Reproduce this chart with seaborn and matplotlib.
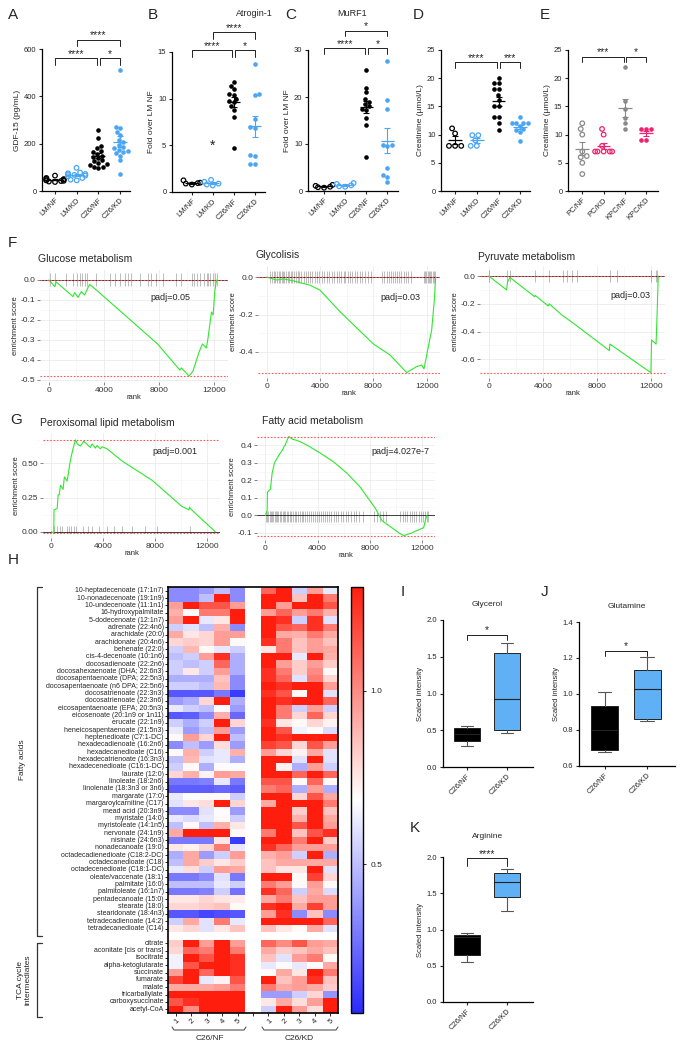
import numpy as np
import pandas as pd
import seaborn as sns
import matplotlib.pyplot as plt
from matplotlib.lines import Line2D
from matplotlib.colors import LinearSegmentedColormap

sns.set_style("white")
plt.rcParams['font.family'] = ['Liberation Sans', 'DejaVu Sans']
plt.rcParams['axes.unicode_minus'] = False

# ---------------- data: dot plots A-E ----------------
lm_groups = ["LM/NF", "LM/KD", "C26/NF", "C26/KD"]
pc_groups = ["PC/NF", "PC/KD", "KPC/NF", "KPC/KD"]

gdf15 = {
    "LM/NF": [65, 55, 52, 50, 48, 46, 45, 43, 42, 40, 38],
    "LM/KD": [98, 78, 75, 72, 70, 68, 65, 62, 55, 48, 45],
    "C26/NF": [258, 226, 192, 180, 170, 165, 158, 150, 145, 138, 130, 125, 118, 112, 108, 103, 100, 98],
    "C26/KD": [510, 272, 265, 250, 235, 215, 205, 195, 185, 180, 175, 170, 165, 160, 150, 130, 72],
}
atrogin = {
    "LM/NF": [1.25, 1.0, 0.95, 0.9, 0.8],
    "LM/KD": [1.3, 1.1, 0.9, 0.8, 0.7],
    "C26/NF": [11.8, 11.4, 11.0, 10.5, 10.4, 10.0, 9.8, 9.6, 9.2, 8.8, 8.0, 4.7],
    "C26/KD": [13.7, 10.5, 10.4, 7.8, 7.0, 6.9, 4.0, 3.9, 3.0, 3.0],
}
murf1 = {
    "LM/NF": [1.3, 1.1, 0.9, 0.8, 0.7],
    "LM/KD": [1.7, 1.5, 1.2, 1.0, 0.9],
    "C26/NF": [25.7, 22.0, 21.0, 19.5, 19.0, 18.5, 18.0, 17.5, 17.2, 15.5, 14.0, 7.3],
    "C26/KD": [27.7, 19.4, 17.4, 9.8, 9.7, 9.6, 4.8, 3.3, 3.0, 2.0],
}
creat_lm = {
    "LM/NF": [11.1, 10.2, 8.0, 8.0, 8.0],
    "LM/KD": [9.9, 9.9, 9.0, 8.0, 8.0],
    "C26/NF": [20.1, 19.1, 19.1, 18.0, 18.0, 17.0, 16.2, 15.0, 15.0, 13.1, 13.1, 12.0, 10.9],
    "C26/KD": [13.1, 12.0, 12.0, 12.0, 12.0, 11.5, 11.0, 10.8, 10.4, 8.9],
}
creat_pc = {
    "PC/NF": [12, 11, 10, 7, 6.2, 6, 5, 3],
    "PC/KD": [11, 10, 8, 7, 7, 7, 7, 7],
    "KPC/NF": [22, 16, 14.5, 13, 12, 11],
    "KPC/KD": [11, 11, 11, 9, 9],
}

# ---------------- data: GSEA curves F-G ----------------
gluc_rank = [0, 415, 527, 1745, 1866, 2108, 2350, 2593, 2836, 2957, 3442, 7888, 9500, 9620, 10170,
             10460, 10900, 11140, 11430, 11550, 11800, 11920, 12040, 12170]
gluc_es = [0.0, -0.033, -0.01, -0.083, -0.063, -0.087, -0.058, -0.075, -0.037, -0.022, -0.05, -0.32, -0.45,
           -0.44, -0.48, -0.455, -0.36, -0.32, -0.34, -0.29, -0.16, -0.175, -0.055, 0.0]
gluc_hits = [50, 414, 1265, 1745, 2036, 2232, 2428, 2595, 2764, 3446, 4413, 4776, 5140, 5504, 5745, 5987,
             6594, 7200, 7442, 7806, 8290, 9260, 9622, 10350, 10540, 10714, 10956, 11247, 11440, 11560,
             11683, 11877, 12045, 12169]

glyc_rank = [0, 750, 1250, 2000, 2500, 3250, 4000, 5500, 8000, 9250, 10500, 11250, 11625, 11800,
             12125, 12375, 12575, 12675]
glyc_es = [0.0, -0.016, -0.01, -0.02, -0.03, -0.043, -0.07, -0.185, -0.357, -0.416, -0.51, -0.478,
           -0.47, -0.49, -0.372, -0.283, -0.123, 0.0]
glyc_hits = [250, 420, 560, 640, 780, 900, 1010, 1120, 1260, 1330, 1480, 1600, 1710, 1850, 1930, 2080,
             2200, 2350, 2460, 2600, 2780, 2950, 3100, 3240, 3420, 3600, 3790, 3950, 4150, 4320, 4500,
             4700, 4880, 5050, 5260, 5420, 5600, 5780, 5900, 6080, 6250, 6420, 6610, 6800, 7000, 7180,
             7400, 7620, 7850, 8680, 8820, 9000, 9150, 9330, 9480, 9650, 9800, 9950, 10100, 10280,
             10450, 10620, 10800, 11780, 11880, 11980, 12070, 12160, 12260, 12350, 12440, 12530, 12620]

pyr_rank = [0, 1310, 1380, 1554, 3380, 3420, 4390, 4460, 5380, 6240, 8900, 8930, 9160, 11960, 12010,
            12340, 12420, 12500]
pyr_es = [0.0, -0.1, -0.045, -0.01, -0.149, -0.14, -0.216, -0.2, -0.28, -0.34, -0.537, -0.49, -0.505,
          -0.696, -0.46, -0.49, -0.27, 0.0]
pyr_hits = [0, 1310, 1554, 3400, 4460, 5450, 5740, 6160, 6480, 8930, 9430, 11950, 12340, 12440]

perox_rank = [0, 180, 200, 440, 520, 600, 700, 900, 1000, 1210, 1300, 1460, 1650, 1850, 2000, 2230,
              2490, 3000, 3140, 3390, 3520, 3770, 3900, 4290, 5460, 7770, 10060, 10600, 10650, 10700, 12640]
perox_es = [0.0, -0.01, 0.16, 0.17, 0.27, 0.27, 0.34, 0.31, 0.40, 0.37, 0.42, 0.52, 0.60, 0.67, 0.64,
            0.625, 0.66, 0.615, 0.64, 0.61, 0.63, 0.605, 0.62, 0.605, 0.515, 0.375, 0.185, 0.16, 0.18,
            0.17, 0.0]
perox_hits = [180, 440, 640, 830, 1210, 1390, 1520, 1720, 1930, 2440, 2800, 3130, 3640, 4290, 4800, 5440,
              6210, 7240, 8140, 10650]

fatty_rank = [0, 130, 150, 380, 510, 690, 1020, 1280, 1400, 1500, 1660, 1790, 2050, 2300, 2680, 3320,
              4210, 5230, 6260, 7280, 8430, 8940, 10340, 10600, 11230, 11490, 12130, 12260, 12380]
fatty_es = [0.0, 0.03, 0.133, 0.15, 0.24, 0.30, 0.343, 0.37, 0.39, 0.40, 0.43, 0.45, 0.435, 0.43, 0.42,
            0.395, 0.355, 0.305, 0.24, 0.16, 0.04, -0.03, -0.105, -0.115, -0.10, -0.09, -0.07, -0.03, 0.0]
fatty_hits = [60, 150, 230, 330, 420, 500, 610, 700, 800, 880, 990, 1100, 1200, 1320, 1410, 1530, 1640,
              1760, 1850, 1980, 2100, 2230, 2350, 2500, 2640, 2780, 2900, 3050, 3200, 3330, 3480, 3620,
              3780, 3920, 4080, 4250, 4400, 4560, 4720, 4900, 5050, 5230, 5400, 5580, 5760, 5950, 6150,
              6340, 6550, 6760, 6980, 7200, 7450, 8350, 8550, 8780, 9000, 9250, 10350, 10520, 10700,
              10880, 11050, 11230, 11400, 11580, 11750, 11900, 12050, 12200, 12350, 12500]

# ---------------- data: heatmap H ----------------
fatty_acids = [
    "10-heptadecenoate (17:1n7)", "10-nonadecenoate (19:1n9)", "10-undecenoate (11:1n1)",
    "16-hydroxypalmitate", "5-dodecenoate (12:1n7)", "adrenate (22:4n6)", "arachidate (20:0)",
    "arachidonate (20:4n6)", "behenate (22:0)", "cis-4-decenoate (10:1n6)", "docosadienoate (22:2n6)",
    "docosahexaenoate (DHA; 22:6n3)", "docosapentaenoate (DPA; 22:5n3)",
    "docosapentaenoate (n6 DPA; 22:5n6)", "docosatrienoate (22:3n3)", "docosatrienoate (22:3n6)",
    "eicosapentaenoate (EPA; 20:5n3)", "eicosenoate (20:1n9 or 1n11)", "erucate (22:1n9)",
    "heneicosapentaenoate (21:5n3)", "heptenedioate (C7:1-DC)", "hexadecadienoate (16:2n6)",
    "hexadecanedioate (C16)", "hexadecatrienoate (16:3n3)", "hexadecenedioate (C16:1-DC)",
    "laurate (12:0)", "linoleate (18:2n6)", "linolenate (18:3n3 or 3n6)", "margarate (17:0)",
    "margaroylcarnitine (C17)", "mead acid (20:3n9)", "myristate (14:0)", "myristoleate (14:1n5)",
    "nervonate (24:1n9)", "nisinate (24:6n3)", "nonadecanoate (19:0)", "octadecadienedioate (C18:2-DC)",
    "octadecanedioate (C18)", "octadecenedioate (C18:1-DC)", "oleate/vaccenate (18:1)", "palmitate (16:0)",
    "palmitoleate (16:1n7)", "pentadecanoate (15:0)", "stearate (18:0)", "stearidonate (18:4n3)",
    "tetradecadienoate (14:2)", "tetradecanedioate (C14)",
]
tca = ["citrate", "aconitate [cis or trans]", "isocitrate", "alpha-ketoglutarate", "succinate",
       "fumarate", "malate", "tricarballylate", "carboxysuccinate", "acetyl-CoA"]

nf_fa = [
    [0.35, 0.35, 0.40, 0.50, 0.35], [0.35, 0.35, 0.50, 1.30, 0.35], [0.95, 1.30, 1.15, 1.15, 0.95],
    [0.90, 0.70, 1.05, 1.05, 1.30], [0.95, 1.30, 0.62, 0.75, 1.30], [0.55, 0.60, 0.50, 0.90, 0.35],
    [0.92, 0.75, 0.80, 0.95, 0.95], [0.80, 0.82, 0.80, 0.95, 0.70], [0.55, 0.88, 0.70, 0.62, 0.55],
    [0.50, 0.55, 0.95, 1.25, 0.45], [0.55, 0.50, 0.55, 1.10, 0.45], [0.55, 0.75, 0.55, 0.95, 0.45],
    [0.45, 0.45, 0.45, 0.85, 0.35], [0.55, 0.55, 0.50, 0.88, 0.35], [0.20, 0.20, 0.20, 0.30, 0.12],
    [0.40, 0.45, 0.80, 1.30, 0.45], [0.62, 0.55, 0.50, 0.68, 0.40], [0.20, 0.22, 0.35, 0.90, 0.25],
    [0.55, 0.45, 0.55, 1.30, 0.80], [0.62, 0.40, 0.50, 0.95, 0.40], [0.70, 0.95, 0.80, 1.30, 0.50],
    [0.35, 0.50, 0.40, 0.78, 0.40], [0.70, 0.90, 0.55, 0.62, 0.90], [0.50, 0.88, 0.60, 0.62, 0.45],
    [0.55, 0.70, 0.45, 0.68, 0.68], [0.80, 0.90, 0.72, 0.95, 0.92], [0.30, 0.30, 0.32, 0.62, 0.30],
    [0.22, 0.22, 0.22, 0.25, 0.22], [0.62, 0.68, 0.70, 0.70, 0.55], [0.60, 0.75, 0.78, 1.30, 0.80],
    [0.35, 0.35, 0.60, 0.68, 0.40], [0.62, 0.58, 0.62, 0.70, 0.55], [0.50, 0.70, 0.50, 0.90, 0.75],
    [0.92, 1.30, 1.30, 1.30, 0.70], [0.30, 0.30, 0.30, 0.75, 0.12], [0.75, 0.72, 0.80, 1.05, 0.62],
    [0.45, 0.92, 0.40, 0.55, 0.95], [0.50, 0.92, 0.82, 0.75, 0.82], [0.62, 0.78, 0.55, 0.95, 0.92],
    [0.30, 0.30, 0.35, 0.60, 0.30], [0.50, 0.50, 0.50, 0.62, 0.55], [0.30, 0.30, 0.32, 0.55, 0.28],
    [0.75, 0.75, 0.80, 0.76, 0.74], [0.80, 0.80, 0.82, 0.85, 0.70], [0.20, 0.20, 0.15, 0.18, 0.20],
    [0.55, 0.92, 0.60, 1.05, 0.62], [0.75, 0.80, 0.60, 0.75, 0.85],
]
nf_tca = [
    [0.82, 1.30, 0.95, 1.30, 0.95], [0.80, 1.10, 1.05, 1.30, 1.05], [0.65, 1.30, 1.15, 1.30, 1.25],
    [0.65, 1.15, 1.30, 1.30, 1.25], [0.95, 1.30, 1.10, 1.30, 1.25], [1.20, 1.30, 0.62, 0.72, 1.15],
    [0.92, 0.92, 0.92, 0.95, 1.05], [1.30, 1.30, 1.30, 1.30, 1.30], [1.15, 1.25, 1.30, 1.30, 1.30],
    [1.30, 1.00, 1.30, 1.30, 1.30],
]
kd_fa = [
    [1.10, 1.30, 0.55, 0.95, 0.62], [1.30, 1.30, 0.85, 1.30, 1.05], [1.30, 0.95, 1.30, 1.30, 1.15],
    [0.95, 1.10, 0.95, 1.05, 0.90], [1.30, 1.25, 0.55, 1.25, 0.60], [1.30, 1.15, 1.10, 1.25, 1.05],
    [1.30, 0.92, 0.90, 1.05, 0.92], [1.25, 1.05, 0.85, 0.95, 0.85], [0.75, 1.05, 0.85, 0.95, 0.92],
    [1.30, 1.30, 0.62, 1.30, 0.90], [1.30, 0.95, 0.82, 0.95, 0.82], [1.25, 1.05, 0.82, 1.00, 0.70],
    [1.25, 1.10, 0.60, 1.05, 0.80], [1.30, 1.25, 1.30, 1.30, 0.95], [1.25, 1.15, 0.70, 1.30, 0.60],
    [1.30, 1.25, 1.30, 1.30, 1.10], [1.30, 1.05, 0.55, 0.95, 0.55], [1.30, 1.05, 0.80, 1.10, 0.80],
    [1.25, 0.75, 0.70, 0.80, 0.72], [1.30, 1.15, 0.65, 0.70, 0.58], [1.30, 1.25, 1.30, 1.30, 1.30],
    [1.20, 1.15, 0.80, 1.15, 0.95], [0.95, 0.80, 0.72, 0.92, 0.60], [1.30, 1.30, 0.60, 1.30, 0.60],
    [1.30, 0.72, 0.45, 0.95, 0.55], [1.30, 1.30, 1.10, 1.30, 1.10], [1.15, 1.15, 0.70, 1.10, 0.70],
    [1.05, 1.10, 0.45, 0.95, 0.45], [1.30, 1.30, 0.80, 1.15, 0.92], [0.92, 1.30, 1.30, 1.30, 1.05],
    [1.30, 1.30, 0.82, 1.30, 0.85], [1.30, 1.30, 0.90, 1.30, 0.92], [1.30, 1.30, 1.15, 1.30, 0.95],
    [1.05, 1.30, 0.85, 1.15, 1.25], [1.30, 1.30, 1.05, 1.30, 0.82], [1.25, 1.10, 0.95, 0.95, 0.95],
    [0.90, 0.95, 0.55, 1.30, 0.45], [0.85, 0.92, 0.92, 0.92, 0.92], [0.85, 0.75, 0.75, 1.30, 0.60],
    [1.30, 1.30, 0.70, 1.20, 0.80], [1.05, 0.95, 0.70, 0.95, 0.70], [1.25, 1.10, 0.55, 0.92, 0.58],
    [0.92, 1.05, 0.85, 0.95, 0.95], [1.25, 1.30, 0.92, 1.20, 0.95], [0.95, 1.25, 0.35, 0.85, 0.35],
    [1.30, 1.30, 1.30, 1.30, 1.10], [0.85, 0.75, 0.70, 0.92, 0.60],
]
kd_tca = [
    [1.10, 1.00, 1.15, 0.95, 0.92], [0.92, 0.82, 0.85, 0.92, 0.85], [0.85, 0.60, 0.95, 1.05, 0.70],
    [0.62, 0.68, 0.62, 0.68, 0.92], [0.70, 0.92, 0.75, 1.30, 1.05], [1.30, 0.85, 0.95, 1.25, 0.85],
    [1.05, 0.92, 0.95, 0.92, 0.82], [0.40, 0.40, 0.55, 0.80, 0.38], [0.75, 0.92, 0.78, 0.95, 1.30],
    [0.55, 1.30, 0.95, 0.78, 1.30],
]
sample_ids = ["1", "2", "3", "4", "5"]

# ---------------- data: box plots I-K (whislo, q1, median, q3, whishi) ----------------
box_groups = ["C26/NF", "C26/KD"]
glycerol = [[0.28, 0.35, 0.45, 0.53, 0.555], [0.46, 0.51, 0.93, 1.55, 1.69]]
glutamine = [[0.68, 0.69, 0.80, 0.935, 1.01], [0.85, 0.86, 1.03, 1.135, 1.205]]
arginine = [[0.55, 0.65, 0.90, 0.93, 0.95], [1.25, 1.45, 1.65, 1.78, 1.83]]

# ---------------- helpers ----------------
W, H = 684, 1050
fig = plt.figure(figsize=(W / 100, H / 100), dpi=100)


def px_axes(x0, y0, x1, y1):
    return fig.add_axes([x0 / W, 1 - y1 / H, (x1 - x0) / W, (y1 - y0) / H])


def ftext(x, y, s, **kw):
    fig.text(x / W, 1 - y / H, s, **kw)


def fline(xs, ys, **kw):
    fig.add_artist(Line2D([x / W for x in xs], [1 - y / H for y in ys], **kw))


def letter(x, y, s):
    ftext(x, y, s, fontsize=11, ha="left", va="center")


def bracket(ax, x1, x2, y, h, label):
    ax.plot([x1, x1, x2, x2], [y - h, y, y, y - h], color="#222222", lw=0.7, clip_on=False)
    ax.text((x1 + x2) / 2, y - h * 0.1, label, ha="center", va="bottom", fontsize=7.5, clip_on=False)


BLACK, BLUE, GREY, PINK = "#000000", "#4aa6f5", "#8a8a8a", "#f0226f"


def dot_panel(rect, data, order, colors, hollow, ylim, yticks, ylabel, xlim, brackets):
    ax = px_axes(*rect)
    for i, g in enumerate(order):
        sub = pd.DataFrame({"group": g, "value": data[g]})
        if hollow[i]:
            sns.swarmplot(data=sub, x="group", y="value", order=order, ax=ax, size=3.3,
                          color=colors[i], facecolors="none", edgecolor=colors[i],
                          linewidth=0.9, warn_thresh=1)
        else:
            sns.swarmplot(data=sub, x="group", y="value", order=order, ax=ax, size=3.3,
                          color=colors[i], linewidth=0, warn_thresh=1)
        v = np.array(data[g], dtype=float)
        m = v.mean()
        se = v.std(ddof=1) / np.sqrt(len(v))
        ax.hlines(m, i - 0.32, i + 0.32, color=colors[i], lw=0.9, zorder=5)
        ax.errorbar(i, m, yerr=se, color=colors[i], capsize=2.5, lw=0.8, capthick=0.8, zorder=5)
    ax.set_xlim(*xlim)
    ax.set_ylim(*ylim)
    ax.set_yticks(yticks)
    ax.set_xlabel("")
    ax.set_ylabel(ylabel, fontsize=6, labelpad=2)
    ax.set_xticks(range(4))
    ax.set_xticklabels(order, rotation=45, ha="right", rotation_mode="anchor", fontsize=5.5)
    ax.tick_params(axis="both", which="both", left=True, bottom=True, length=2.5, width=0.8,
                   labelsize=5.5, pad=1.5)
    sns.despine(ax=ax)
    for s in ["left", "bottom"]:
        ax.spines[s].set_linewidth(0.9)
        ax.spines[s].set_color("black")
    for x1, x2, y, h, lab in brackets:
        bracket(ax, x1, x2, y, h, lab)
    return ax


def gsea_panel(rect, ranks, es, hits, ylim, yticks, ylabels, hit_span):
    ax = px_axes(*rect)
    ax.set_xlim(-650, 13000)
    ax.set_ylim(*ylim)
    ax.set_xticks([0, 4000, 8000, 12000])
    ax.set_xticks([2000, 6000, 10000], minor=True)
    ax.set_yticks(yticks)
    ax.set_yticklabels(ylabels)
    ax.set_yticks([(a + b) / 2 for a, b in zip(yticks[:-1], yticks[1:])], minor=True)
    ax.grid(True, which="major", color="#ebebeb", lw=0.6)
    ax.grid(True, which="minor", color="#f4f4f4", lw=0.4)
    ax.set_axisbelow(True)
    for s in ax.spines.values():
        s.set_visible(False)
    ax.tick_params(axis="both", which="major", left=True, bottom=True, length=2, width=0.5,
                   color="#555555", labelsize=6, labelcolor="#333333", pad=1.5)
    ax.tick_params(axis="both", which="minor", length=0)
    ax.axhline(0, color="#222222", lw=0.6, zorder=2)
    ax.vlines(hits, hit_span[0], hit_span[1], color="black", lw=0.6, alpha=0.3, zorder=3)
    sns.lineplot(x=ranks, y=es, ax=ax, color="#2ee82e", lw=0.8, estimator=None, sort=False, zorder=4)
    ax.axhline(max(es), color="#ff5555", ls=(0, (1.5, 1.5)), lw=0.8, zorder=5)
    ax.axhline(min(es), color="#ff5555", ls=(0, (1.5, 1.5)), lw=0.8, zorder=5)
    ax.set_xlabel("rank", fontsize=5.5, labelpad=0)
    ax.set_ylabel("enrichment score", fontsize=5.5, labelpad=1)
    return ax


def box_panel(rect, stats, ylim, yticks, yfmt, title, title_xy, brk):
    ax = px_axes(*rect)
    bstats = [dict(whislo=s[0], q1=s[1], med=s[2], q3=s[3], whishi=s[4], fliers=[], label=g)
              for s, g in zip(stats, box_groups)]
    parts = ax.bxp(bstats, positions=[0, 1], widths=0.64, patch_artist=True, showfliers=False,
                   boxprops=dict(edgecolor="#222222", lw=0.7),
                   medianprops=dict(color="#222222", lw=0.8),
                   whiskerprops=dict(color="#555555", lw=0.8),
                   capprops=dict(color="#555555", lw=0.8), capwidths=0.32)
    for patch, c in zip(parts["boxes"], [BLACK, "#5fb0f5"]):
        patch.set_facecolor(c)
    ax.set_xlim(-0.6, 1.65)
    ax.set_ylim(*ylim)
    ax.set_yticks(yticks)
    ax.set_yticklabels([yfmt.format(t) for t in yticks])
    ax.set_xticks([0, 1])
    ax.set_xticklabels(box_groups, rotation=45, ha="right", rotation_mode="anchor", fontsize=5.5)
    ax.tick_params(axis="both", left=True, bottom=True, length=2.5, width=0.8, labelsize=5.5, pad=1.5)
    ax.set_ylabel("Scaled intensity", fontsize=5.5, labelpad=2)
    sns.despine(ax=ax)
    for s in ["left", "bottom"]:
        ax.spines[s].set_linewidth(0.9)
        ax.spines[s].set_color("black")
    bracket(ax, 0, 1, brk[0], brk[1], brk[2])
    ftext(title_xy[0], title_xy[1], title, fontsize=6, ha="center", va="center")
    return ax


# ---------------- A-E ----------------
letter(8, 15, "A")
dot_panel((42, 49, 130, 191), gdf15, lm_groups, [BLACK, BLUE, BLACK, BLUE], [True, True, False, False],
          (0, 600), [0, 200, 400, 600], "GDF-15 (pg/mL)", (-0.6, 3.46),
          [(0, 1.94, 562, 28, "****"), (2.06, 3, 562, 28, "*"), (1, 3, 640, 28, "****")])

letter(148, 15, "B")
axb = dot_panel((172, 52, 265, 192), atrogin, lm_groups, [BLACK, BLUE, BLACK, BLUE],
                [True, True, False, False], (0, 15), [0, 5, 10, 15], "Fold over LM NF", (-0.95, 3.5),
                [(0, 1.94, 15.2, 0.7, "****"), (2.06, 3, 15.2, 0.7, "*"), (1, 3, 17.1, 0.7, "****")])
axb.text(1, 5.0, "*", ha="center", va="center", fontsize=10, color="#222222")
ftext(254, 13, "Atrogin-1", fontsize=6.5, ha="center", va="center")

letter(285, 15, "C")
dot_panel((308, 50, 398, 191), murf1, lm_groups, [BLACK, BLUE, BLACK, BLUE], [True, True, False, False],
          (0, 30), [0, 10, 20, 30], "Fold over LM NF", (-0.76, 3.5),
          [(0, 1.94, 30.4, 1.2, "****"), (2.06, 3, 30.4, 1.2, "*"), (1, 3, 34.1, 1.2, "*")])
ftext(352, 13, "MuRF1", fontsize=6.5, ha="center", va="center")

letter(413, 15, "D")
dot_panel((441, 50, 530, 191), creat_lm, lm_groups, [BLACK, BLUE, BLACK, BLUE], [True, True, False, False],
          (0, 25), [0, 5, 10, 15, 20, 25], "Creatinine (µmol/L)", (-0.65, 3.45),
          [(0, 1.94, 22.8, 1.0, "****"), (2.06, 3, 22.8, 1.0, "***")])

letter(540, 15, "E")
dot_panel((568, 50, 658, 191), creat_pc, pc_groups, [GREY, PINK, GREY, PINK], [True, True, False, False],
          (0, 25), [0, 5, 10, 15, 20, 25], "Creatinine (µmol/L)", (-0.67, 3.55),
          [(0, 1.94, 23.8, 1.0, "***"), (2.06, 3, 23.8, 1.0, "*")])

# ---------------- F ----------------
letter(8, 243, "F")
gsea_panel((40, 270, 228, 382), gluc_rank, gluc_es, gluc_hits, (-0.51, 0.05),
           [-0.5, -0.4, -0.3, -0.2, -0.1, 0.0], ["-0.5", "-0.4", "-0.3", "-0.2", "-0.1", "0.0"],
           (-0.028, 0.035))
ftext(38, 259, "Glucose metabolism", fontsize=7.5, ha="left", va="center")
ftext(170, 297, "padj=0.05", fontsize=6.5, ha="center", va="center")

gsea_panel((258, 266, 440, 378), glyc_rank, glyc_es, glyc_hits, (-0.539, 0.059),
           [-0.4, -0.2, 0.0], ["-0.4", "-0.2", "0.0"], (-0.033, 0.034))
ftext(255, 255, "Glycolisis", fontsize=7.5, ha="left", va="center")
ftext(400, 297, "padj=0.03", fontsize=6.5, ha="center", va="center")

gsea_panel((480, 266, 665, 378), pyr_rank, pyr_es, pyr_hits, (-0.734, 0.072),
           [-0.6, -0.4, -0.2, 0.0], ["-0.6", "-0.4", "-0.2", "0.0"], (-0.041, 0.043))
ftext(478, 257, "Pyruvate metabolism", fontsize=7.5, ha="left", va="center")
ftext(630, 296, "padj=0.03", fontsize=6.5, ha="center", va="center")

# ---------------- G ----------------
letter(10, 420, "G")
gsea_panel((43, 433, 220, 538), perox_rank, perox_es, perox_hits, (-0.045, 0.72),
           [0.0, 0.25, 0.5], ["0.00", "0.25", "0.50"], (-0.01, 0.045))
ftext(40, 423, "Peroxisomal lipid metabolism", fontsize=7.5, ha="left", va="center")
ftext(175, 451, "padj=0.001", fontsize=6.5, ha="center", va="center")

gsea_panel((257, 433, 435, 540), fatty_rank, fatty_es, fatty_hits, (-0.14, 0.47),
           [-0.1, 0.0, 0.1, 0.2, 0.3, 0.4], ["-0.1", "0.0", "0.1", "0.2", "0.3", "0.4"], (-0.04, 0.025))
ftext(262, 421, "Fatty acid metabolism", fontsize=7.5, ha="left", va="center")
ftext(400, 451, "padj=4.027e-7", fontsize=6.5, ha="center", va="center")

# ---------------- H heatmap ----------------
letter(8, 560, "H")
blank5 = [[np.nan] * 5]
left = np.array(nf_fa + blank5 + nf_tca, dtype=float)
right = np.array(kd_fa + blank5 + kd_tca, dtype=float)
mat = np.hstack([left, np.full((left.shape[0], 1), np.nan), right])
row_labels = fatty_acids + [""] + tca
col_labels = sample_ids + [""] + sample_ids

hax = px_axes(168, 587, 338, 1013)
cax = px_axes(351, 587, 363, 1013)
cmap = LinearSegmentedColormap.from_list("bwr2", ["#2a2aff", "#ffffff", "#ff1e0e"])
sns.heatmap(mat, ax=hax, cbar_ax=cax, cmap=cmap, vmin=0.07, vmax=1.3,
            xticklabels=col_labels, yticklabels=row_labels)
hax.set_yticks([i + 0.5 for i, l in enumerate(row_labels) if l])
hax.set_yticklabels([l for l in row_labels if l], fontsize=5)
hax.set_xticks([i + 0.5 for i in range(len(col_labels))])
hax.set_xticklabels(col_labels, rotation=45, fontsize=5.5, ha="right", rotation_mode="anchor")
hax.tick_params(axis="both", left=True, bottom=True, length=2, width=0.7, pad=1)
for s in hax.spines.values():
    s.set_visible(True)
    s.set_linewidth(1.2)
    s.set_color("black")
cbar = hax.collections[0].colorbar
cbar.outline.set_linewidth(1.0)
cbar.outline.set_edgecolor("black")
cbar.set_ticks([0.5, 1.0])
cbar.set_ticklabels(["0.5", "1.0"])
cax.tick_params(labelsize=6, length=2, width=0.7, right=True)

# row group brackets on the left
fline([42, 37, 37, 42], [587, 587, 936, 936], color="#333333", lw=0.9)
ftext(22, 760, "Fatty acids", fontsize=6, rotation=90, ha="center", va="center")
fline([42, 37, 37, 42], [943, 943, 1017, 1017], color="#333333", lw=0.9)
ftext(24, 980, "TCA cycle\nintermediates", fontsize=6, rotation=90, ha="center", va="center",
      linespacing=1.1)

# column group brackets below
fline([172, 174, 244, 246], [1027, 1030, 1030, 1027], color="#555555", lw=0.8)
ftext(210, 1039, "C26/NF", fontsize=6, ha="center", va="center")
fline([262, 264, 336, 338], [1027, 1030, 1030, 1027], color="#555555", lw=0.8)
ftext(299, 1039, "C26/KD", fontsize=6, ha="center", va="center")

# ---------------- I-K ----------------
letter(401, 592, "I")
box_panel((443, 620, 533, 767), glycerol, (0, 2.0), [0, 0.5, 1.0, 1.5, 2.0], "{:.1f}", "Glycerol",
          (487, 605), (1.8, 0.07, "*"))
letter(541, 592, "J")
box_panel((579, 622, 675, 766), glutamine, (0.6, 1.4), [0.6, 0.8, 1.0, 1.2, 1.4], "{:.1f}", "Glutamine",
          (627, 606), (1.24, 0.03, "*"))
letter(410, 828, "K")
box_panel((443, 857, 533, 1002), arginine, (0, 2.0), [0, 0.5, 1.0, 1.5, 2.0], "{:.1f}", "Arginine",
          (488, 837), (1.99, 0.12, "****"))

fig.savefig("out.png", dpi=100)
